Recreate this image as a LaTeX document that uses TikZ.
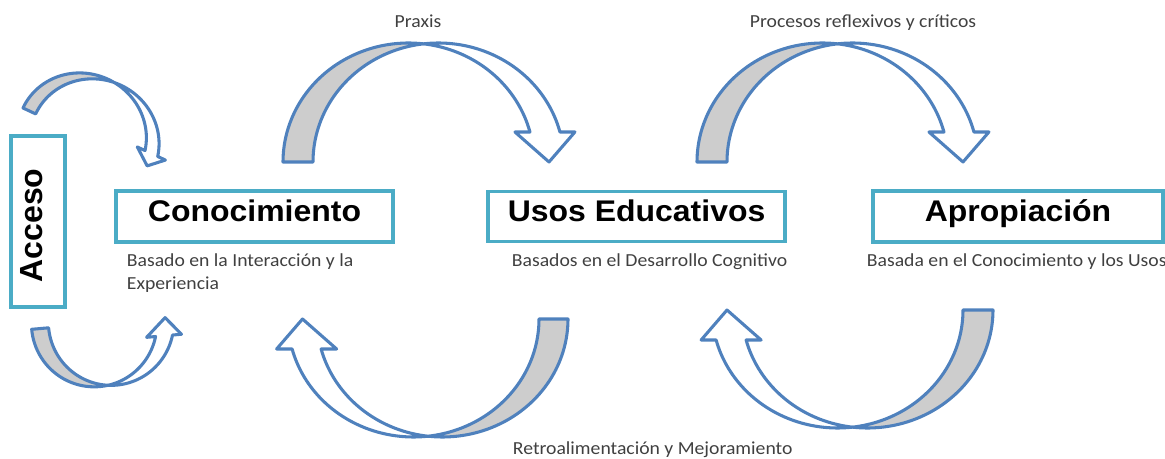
\documentclass[tikz,border=0pt]{standalone}
\usepackage{graphicx}
\usepackage{fontspec}
\setmainfont{Carlito}
\newfontfamily\labelfont{Liberation Sans}
\definecolor{boxteal}{RGB}{75,172,198}
\definecolor{arrblue}{RGB}{79,129,189}
\definecolor{backgray}{RGB}{205,205,205}
\definecolor{txtgray}{RGB}{64,64,64}
\newcommand{\wide}[1]{\scalebox{1.07}[1]{#1}}
\tikzset{
  labelbox/.style={draw=boxteal, line width=2.7pt, fill=white, inner sep=0pt,
    font=\labelfont\bfseries\fontsize{22.4}{27}\selectfont, text=black,
    text height=0.72em, text depth=0pt},
  note/.style={font=\fontsize{13.8}{17.25}\selectfont, text=txtgray, inner sep=0pt},
  arrowback/.style={draw=arrblue, line width=2.3pt, fill=backgray, line join=round},
  arrowfront/.style={draw=arrblue, line width=2.3pt, fill=white, line join=round},
}
% #1 placement, #2 wR, #3 h, #4 shaft thickness, #5 head width, #6 head length
\newcommand{\curvedarrow}[6]{%
  \begin{scope}[#1]
    \pgfmathsetmacro\cA{#2}
    \pgfmathsetmacro\cB{#2+#4}
    \pgfmathsetmacro\aI{acos(#4/(2*#2))}
    \pgfmathsetmacro\aJ{180-\aI}
    \pgfmathsetmacro\aH{asin(#6/#3)}
    \pgfmathsetmacro\xA{\cA+#2*cos(\aH)}
    \pgfmathsetmacro\xB{\cB+#2*cos(\aH)}
    \pgfmathsetmacro\dhd{(#5-#4)/2}
    \pgfmathsetmacro\xT{2*#2+#4/2}
    \path[arrowfront] plot[variable=\t,domain=\aJ:\aH,samples=50] ({\cB+#2*cos(\t)},{#3*sin(\t)})
      -- (\xB+\dhd,#6) -- (\xT,0) -- (\xA-\dhd,#6)
      -- plot[variable=\t,domain=\aH:\aI,samples=50] ({\cA+#2*cos(\t)},{#3*sin(\t)}) -- cycle;
    \path[arrowback] plot[variable=\t,domain=180:\aI,samples=50] ({\cA+#2*cos(\t)},{#3*sin(\t)})
      -- plot[variable=\t,domain=\aJ:180,samples=50] ({\cB+#2*cos(\t)},{#3*sin(\t)}) -- cycle;
  \end{scope}}
\begin{document}
\begin{tikzpicture}[x=0.75pt,y=-0.75pt]
\useasboundingbox (0,0) rectangle (1165,459);

% curved arrows
\curvedarrow{shift={(283,162)},yscale=-1}{125.5}{119}{30}{60}{30}
\curvedarrow{shift={(697,162)},yscale=-1}{125.5}{119}{30}{60}{30}
\curvedarrow{shift={(568,319)},rotate=180,yscale=-1}{125.5}{118}{29}{60}{30}
\curvedarrow{shift={(993,310)},rotate=180,yscale=-1}{125.5}{118}{30}{60}{30}
\curvedarrow{shift={(23,108)},rotate=-25,yscale=-1}{65}{62}{14}{31}{13}
\curvedarrow{shift={(31.7,329.3)},rotate=5}{62.7}{63}{17}{35}{18}

% boxes
\node[labelbox, rotate=90, minimum width=171*0.75pt, minimum height=54*0.75pt,
  font=\labelfont\bfseries\fontsize{24}{28}\selectfont] (acceso) at (38,221.5) {\hspace*{-6pt}Acceso};
\node[labelbox, minimum width=277*0.75pt, minimum height=51*0.75pt] (cono) at (254.5,216.5) {\wide{Conocimiento}};
\node[labelbox, minimum width=297*0.75pt, minimum height=50*0.75pt] (usos) at (636.6,216.7) {\wide{Usos Educativos}};
\node[labelbox, minimum width=290*0.75pt, minimum height=51*0.75pt] (apro) at (1018,216.5) {\wide{Apropiación}};

% notes
\node[note, align=left, anchor=base west] (notecono) at (126.7,290) {\wide{Basado en la Interacción y la}\\\wide{Experiencia}};
\node[note, anchor=base west] (noteusos) at (511.7,267) {\wide{Basados en el Desarrollo Cognitivo}};
\node[note, anchor=base west] (noteapro) at (866.7,267) {\wide{Basada en el Conocimiento y los Usos}};
\node[note, anchor=base] (praxis) at (418,28) {\wide{Praxis}};
\node[note, anchor=base] (procesos) at (863,28) {\wide{Procesos reflexivos y críticos}};
\node[note, anchor=base west] (retro) at (512.7,455) {\wide{Retroalimentación y Mejoramiento}};
\end{tikzpicture}
\end{document}
